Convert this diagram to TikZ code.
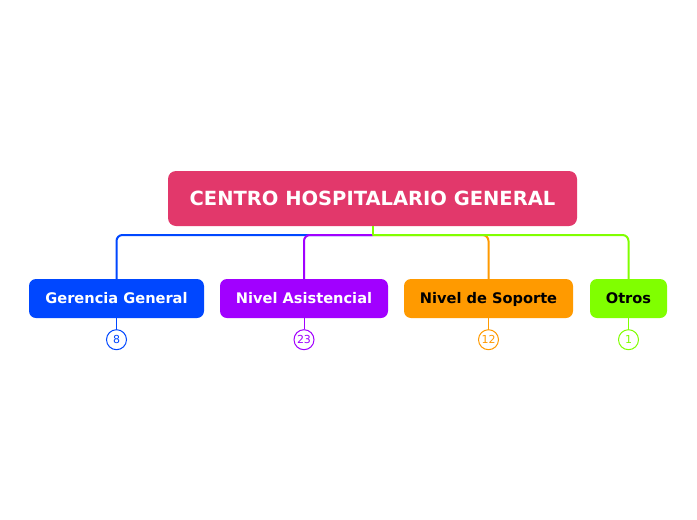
\documentclass[tikz,border=0pt]{standalone}
\usepackage{fontspec}
\setmainfont{DejaVu Sans}
\usetikzlibrary{positioning}
\definecolor{rootc}{HTML}{E2386B}
\definecolor{cblue}{HTML}{0047FF}
\definecolor{cpurple}{HTML}{A100FF}
\definecolor{corange}{HTML}{FF9A00}
\definecolor{cgreen}{HTML}{80FF00}
\tikzset{
  rootbox/.style={fill=rootc, rounded corners=8pt, minimum width=409pt, minimum height=55pt, inner sep=0pt, text=white, text height=14.2pt, text depth=0pt, font=\bfseries\fontsize{19.5}{22}\selectfont},
  childbox/.style={rounded corners=7pt, minimum height=39pt, inner sep=0pt, text height=10.7pt, text depth=0pt, font=\bfseries\fontsize{14.6}{17}\selectfont},
  badge/.style={circle, draw=#1, fill=white, line width=1pt, minimum size=20pt, inner sep=0pt, text=#1, text height=8pt, text depth=0pt, font=\fontsize{11}{12}\selectfont},
  conn/.style={draw=#1, line width=2pt, rounded corners=6pt},
  stub/.style={draw=#1, line width=1pt},
}
\begin{document}
\begin{tikzpicture}[x=1pt,y=-1pt]
\useasboundingbox (0,0) rectangle (697,520);
\node[rootbox] (root) at (372.5,198.5) {CENTRO HOSPITALARIO GENERAL};
\coordinate (hub) at (372.5,235);
\node[childbox, fill=cblue, text=white, minimum width=175pt] (c1) at (116.5,298.5) {Gerencia General};
\node[childbox, fill=cpurple, text=white, minimum width=168pt] (c2) at (304,298.5) {Nivel Asistencial};
\node[childbox, fill=corange, text=black, minimum width=169pt] (c3) at (488.5,298.5) {Nivel de Soporte};
\node[childbox, fill=cgreen, text=black, minimum width=77pt] (c4) at (628.5,298.5) {Otros};
\draw[conn=cblue] (hub) -| (c1.north);
\draw[conn=cpurple] (hub) -| (c2.north);
\draw[conn=corange] (hub) -| (c3.north);
\draw[conn=cgreen] (hub) -| (c4.north);
\draw[draw=cgreen, line width=2pt] (root.south) -- (hub);
\node[badge=cblue, below=11pt of c1] (b1) {8};
\node[badge=cpurple, below=11pt of c2] (b2) {23};
\node[badge=corange, below=11pt of c3] (b3) {12};
\node[badge=cgreen, below=11pt of c4] (b4) {1};
\draw[stub=cblue] (c1.south) -- (b1.north);
\draw[stub=cpurple] (c2.south) -- (b2.north);
\draw[stub=corange] (c3.south) -- (b3.north);
\draw[stub=cgreen] (c4.south) -- (b4.north);
\end{tikzpicture}
\end{document}
